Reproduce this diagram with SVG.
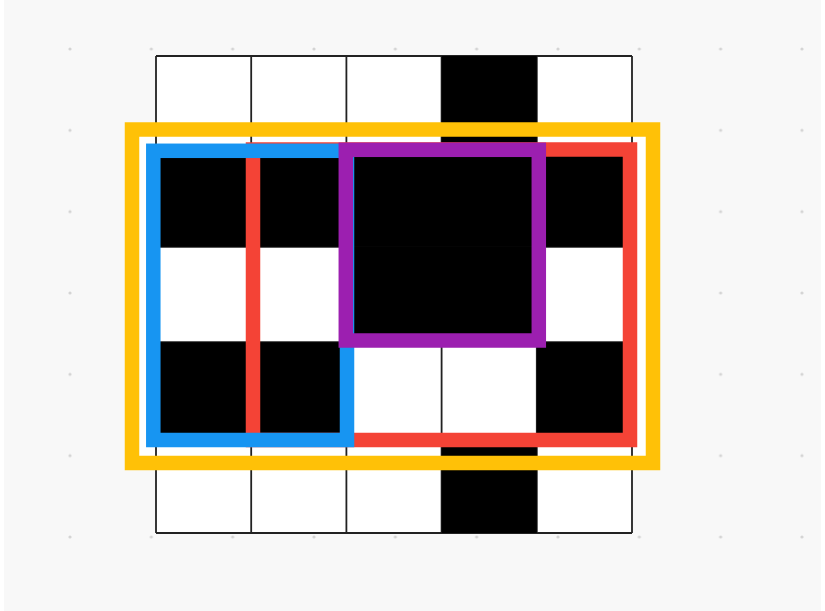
<svg xmlns="http://www.w3.org/2000/svg" width="825" height="611" viewBox="0 0 825 611">
<defs>
<style>
.dot{fill:#d4d4d4}
.blk{fill:#000}
.gl{stroke:#222;stroke-width:1.8;fill:none}
.sel{fill:none;stroke-width:14.5}
</style>
<pattern id="dots" x="70" y="49" width="81.33" height="81.33" patternUnits="userSpaceOnUse">
<circle class="dot" cx="0" cy="0" r="1.6"/><circle class="dot" cx="81.33" cy="0" r="1.6"/><circle class="dot" cx="0" cy="81.33" r="1.6"/><circle class="dot" cx="81.33" cy="81.33" r="1.6"/>
</pattern>
</defs>
<rect x="0" y="0" width="825" height="611" fill="#ffffff"/>
<rect x="4" y="0" width="817" height="611" fill="#f8f8f8"/>
<rect x="68" y="47" width="738" height="494" fill="url(#dots)"/>
<g id="orange-fill"><rect x="132" y="129.5" width="521" height="333.5" fill="#ffffff"/></g>
<g id="grid">
<rect x="156" y="56" width="476" height="477" fill="#ffffff"/>
<path class="gl" d="M156 56V533M251.2 56V533M346.4 56V533M441.6 56V533M536.8 56V533M632 56V533M156 56H632M156 151.4H632M156 246.8H632M156 342.2H632M156 437.6H632M156 533H632"/>
<rect class="blk" x="441.6" y="56" width="95.2" height="95.4"/>
<rect class="blk" x="156" y="151.4" width="476" height="95.4"/>
<rect class="blk" x="346.4" y="246.8" width="190.4" height="95.4"/>
<rect class="blk" x="156" y="342.2" width="190.4" height="95.4"/>
<rect class="blk" x="536.8" y="342.2" width="95.2" height="95.4"/>
<rect class="blk" x="441.6" y="437.6" width="95.2" height="95.4"/>
</g>
<g id="selections">
<rect id="orange" class="sel" x="132" y="129.5" width="521" height="333.5" stroke="#FFC107"/>
<rect id="red" class="sel" x="253" y="149.5" width="377" height="290.5" stroke="#F44336"/>
<rect id="blue" class="sel" x="153.3" y="150.8" width="193.7" height="289.2" stroke="#1795F2"/>
<rect id="purple" class="sel" x="345.8" y="149.8" width="193" height="190.7" stroke="#9C1FB0"/>
</g>
</svg>
